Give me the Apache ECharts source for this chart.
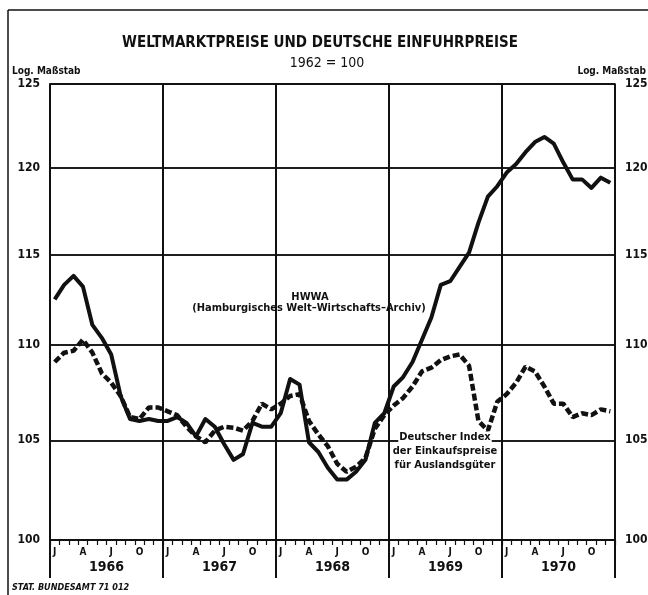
<!DOCTYPE html>
<html>
<head>
<meta charset="utf-8">
<script src="https://cdn.jsdelivr.net/npm/echarts@6/dist/echarts.min.js"></script>
<style>
  html, body { margin: 0; padding: 0; background: #fff; }
  #chart { width: 648px; height: 595px; }
</style>
</head>
<body>
<div id="chart"></div>
<script>
const years = ['1966', '1967', '1968', '1969', '1970'];
const monthLetters = ['J', 'F', 'M', 'A', 'M', 'J', 'J', 'A', 'S', 'O', 'N', 'D'];
const yTicks = [100, 105, 110, 115, 120, 125];

// HWWA (Hamburgisches Welt-Wirtschafts-Archiv), monthly 1966-1970, 1962 = 100
const hwwa = [
  112.5, 113.3, 113.8, 113.2, 111.1, 110.4, 109.5, 107.3, 106.1, 106.0, 106.1, 106.0,
  106.0, 106.2, 105.9, 105.2, 106.1, 105.7, 104.8, 104.0, 104.3, 105.9, 105.7, 105.7,
  106.4, 108.2, 107.9, 104.9, 104.4, 103.6, 103.0, 103.0, 103.4, 104.0, 105.9, 106.4,
  107.8, 108.3, 109.1, 110.3, 111.5, 113.3, 113.5, 114.3, 115.1, 116.8, 118.3, 118.9,
  119.7, 120.2, 120.9, 121.5, 121.8, 121.4, 120.3, 119.3, 119.3, 118.8, 119.4, 119.1
];

// Deutscher Index der Einkaufspreise für Auslandsgüter
const einfuhr = [
  109.1, 109.6, 109.7, 110.3, 109.6, 108.5, 108.0, 107.3, 106.2, 106.1, 106.7, 106.7,
  106.5, 106.3, 105.7, 105.2, 104.9, 105.5, 105.7, 105.65, 105.5, 106.0, 106.9, 106.6,
  106.9, 107.3, 107.4, 106.0, 105.3, 104.7, 103.8, 103.4, 103.65, 104.1, 105.6, 106.3,
  106.8, 107.2, 107.8, 108.6, 108.8, 109.2, 109.4, 109.5, 108.9, 106.0, 105.5, 107.0,
  107.4, 108.0, 108.85, 108.6, 107.8, 106.9, 106.9, 106.2, 106.4, 106.3, 106.6, 106.5
];

const months = years.flatMap(y => monthLetters.map((m, i) => y + '-' + (i + 1)));

const ink = '#111';
const font = '"Liberation Sans Narrow", "DejaVu Sans Condensed", "Noto Sans", sans-serif';

const chart = echarts.init(document.getElementById('chart'));

function txt(x, y, text, opts) {
  return {
    type: 'text',
    x: x,
    y: y,
    z: 10,
    style: Object.assign({
      text: text,
      fill: ink,
      font: 'bold 11px ' + font,
      align: 'center',
      verticalAlign: 'middle'
    }, opts || {})
  };
}

chart.setOption({
  animation: false,
  backgroundColor: '#fff',
  grid: {
    left: 50, right: 33, top: 84, bottom: 55,
    show: true, borderColor: ink, borderWidth: 1.5
  },
  xAxis: [
    {
      type: 'category',
      data: months,
      boundaryGap: true,
      position: 'bottom',
      axisLine: { show: true, lineStyle: { color: ink, width: 1.5 } },
      axisTick: { show: true, interval: 0, length: 5, lineStyle: { color: ink, width: 1.2 } },
      axisLabel: {
        interval: (i) => i % 3 === 0,
        formatter: (v) => monthLetters[+v.split('-')[1] - 1],
        color: ink, fontFamily: font, fontSize: 10, fontWeight: 'bold', margin: 7
      },
      splitLine: { show: false }
    },
    {
      type: 'category',
      data: years,
      boundaryGap: true,
      position: 'bottom',
      axisLine: { show: false },
      axisTick: { show: true, interval: 0, length: 38, lineStyle: { color: ink, width: 2 } },
      axisLabel: { color: ink, fontFamily: font, fontSize: 14, fontWeight: 'bold', margin: 20 },
      splitLine: { show: true, interval: 0, lineStyle: { color: ink, width: 2 } }
    }
  ],
  yAxis: {
    type: 'log',
    logBase: 10,
    min: 100,
    max: 125,
    axisLine: { show: true, lineStyle: { color: ink, width: 1.5 } },
    axisTick: { show: false },
    axisLabel: { show: false },
    splitLine: { show: false }
  },
  series: [
    {
      // carries the horizontal grid lines and both label columns
      type: 'line',
      data: hwwa,
      symbol: 'none',
      silent: true,
      z: 1,
      lineStyle: { opacity: 0 },
      markLine: {
        symbol: 'none',
        silent: true,
        animation: false,
        lineStyle: { color: ink, width: 1.5, type: 'solid' },
        label: {
          formatter: '{c}', color: ink, fontFamily: font,
          fontSize: 12, fontWeight: 'bold', distance: 10
        },
        data: yTicks.flatMap(v => [
          { yAxis: v, label: { position: 'start' } },
          { yAxis: v, label: { position: 'end' } }
        ])
      }
    },
    {
      name: 'HWWA',
      type: 'line',
      data: hwwa,
      symbol: 'none',
      z: 3,
      lineStyle: { color: ink, width: 4, join: 'round' }
    },
    {
      name: 'Deutscher Index der Einkaufspreise für Auslandsgüter',
      type: 'line',
      data: einfuhr,
      symbol: 'none',
      z: 3,
      lineStyle: { color: ink, width: 4.5, type: [7, 3] }
    }
  ],
  graphic: { elements: [
    { type: 'line', z: 10, shape: { x1: 8, y1: 10, x2: 8, y2: 595 }, style: { stroke: ink, lineWidth: 1.5 } },
    { type: 'line', z: 10, shape: { x1: 8, y1: 10, x2: 648, y2: 10 }, style: { stroke: ink, lineWidth: 1.5 } },
    txt(320, 43, 'WELTMARKTPREISE UND DEUTSCHE EINFUHRPREISE', { font: 'bold 15px ' + font }),
    txt(327, 63, '1962 = 100', { font: '14px ' + font }),
    txt(12, 71, 'Log. Maßstab', { font: 'bold 10px ' + font, align: 'left' }),
    txt(646, 71, 'Log. Maßstab', { font: 'bold 10px ' + font, align: 'right' }),
    txt(310, 297, 'HWWA'),
    txt(309, 308, '(Hamburgisches Welt–Wirtschafts–Archiv)'),
    txt(445, 437, 'Deutscher Index', { backgroundColor: '#fff', padding: [0, 1] }),
    txt(445, 451, 'der Einkaufspreise'),
    txt(445, 465, 'für Auslandsgüter'),
    txt(12, 588, 'STAT. BUNDESAMT 71 012', { font: 'italic bold 9px ' + font, align: 'left' })
  ] }
});
</script>
</body>
</html>
